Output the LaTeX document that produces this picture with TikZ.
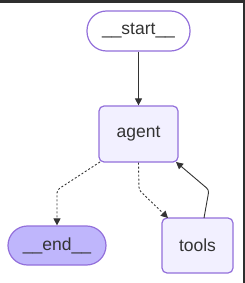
\documentclass[tikz,border=0pt]{standalone}
\usepackage{fontspec}
\setmainfont{Liberation Sans}
\usetikzlibrary{arrows.meta}
\definecolor{nodeborder}{HTML}{9370DB}
\definecolor{nodefill}{HTML}{F2F0FF}
\definecolor{endfill}{HTML}{BFB6FC}
\definecolor{ink}{HTML}{333333}
\definecolor{frame}{HTML}{2E2E2E}
\tikzset{
  graphnode/.style={draw=nodeborder, line width=1.2pt, fill=nodefill, text=ink,
    font=\fontsize{17.5}{20}\selectfont, inner sep=0pt, rounded corners=5pt},
  terminal/.style={graphnode, rounded corners=19.5pt},
  solidedge/.style={draw=ink, line width=0.9pt, -{Triangle[length=7pt,width=7pt]}},
  dottededge/.style={solidedge, dash pattern=on 2pt off 2pt, rounded corners=3pt}
}
\begin{document}
\begin{tikzpicture}[x=1pt,y=-1pt]
\fill[frame] (0,0) rectangle (245,283);
\fill[white] (0,3) rectangle (243,283);
\useasboundingbox (0,0) rectangle (245,283);

\node[terminal, fill=white, minimum width=103pt, minimum height=40pt] (start) at (138.5,31) {\_\_start\_\_};
\node[graphnode, minimum width=79pt, minimum height=56pt] (agent) at (138.5,134) {agent};
\node[terminal, fill=endfill, minimum width=98pt, minimum height=39pt] (end) at (57,245.5) {\_\_end\_\_};
\node[graphnode, minimum width=71pt, minimum height=55pt] (tools) at (197.5,245.5) {tools};

\coordinate (bendend) at (57,190);
\coordinate (bendtools) at (139,190);
\coordinate (bendback) at (209,190);
\coordinate (toolsin) at (168,218);
\coordinate (toolsout) at (204,218);
\coordinate (agentin) at (176,162);
\coordinate (agentout) at (100,162);

\draw[solidedge] (start.south) -- (agent.north);
\draw[dottededge] (agentout) -- (bendend) -- (end.north);
\draw[dottededge] (agent.south) -- (bendtools) -- (toolsin);
\draw[solidedge, rounded corners=3pt] (toolsout) -- (bendback) -- (agentin);
\end{tikzpicture}
\end{document}
